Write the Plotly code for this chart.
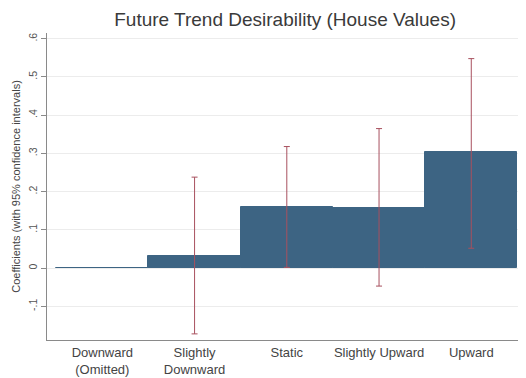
import plotly.graph_objects as go

categories = ['Downward<br>(Omitted)', 'Slightly<br>Downward', 'Static', 'Slightly Upward', 'Upward']
coef = [0.0, 0.032, 0.160, 0.157, 0.303]
ci_low = [0.0, -0.172, 0.002, -0.047, 0.052]
ci_high = [0.0, 0.238, 0.318, 0.365, 0.548]

yticks = [-0.1, 0, 0.1, 0.2, 0.3, 0.4, 0.5, 0.6]
yticklabels = ['-.1', '0', '.1', '.2', '.3', '.4', '.5', '.6']

bar_color = '#3d6483'
ci_color = '#a8505e'

fig = go.Figure()

fig.add_trace(go.Bar(
    x=categories,
    y=coef,
    width=1,
    marker=dict(color=bar_color, line=dict(color=bar_color, width=1)),
    showlegend=False,
))

# confidence intervals (skip the omitted category)
ci_x = categories[1:]
ci_mid = coef[1:]
fig.add_trace(go.Scatter(
    x=ci_x,
    y=ci_mid,
    mode='markers',
    marker=dict(size=1, color='rgba(0,0,0,0)'),
    error_y=dict(
        type='data',
        symmetric=False,
        array=[h - c for h, c in zip(ci_high[1:], ci_mid)],
        arrayminus=[c - l for l, c in zip(ci_low[1:], ci_mid)],
        color=ci_color,
        thickness=1,
        width=3,
    ),
    showlegend=False,
))

# page body has an 8px margin, so the figure is a bit smaller than the window
fig.update_layout(
    width=518,
    height=370,
    margin=dict(l=39, r=4, t=25, b=38, autoexpand=False),
    paper_bgcolor='white',
    plot_bgcolor='white',
    font=dict(family='Liberation Sans, Arial, sans-serif', color='#555555', size=10),
    title=dict(
        text='Future Trend Desirability (House Values)',
        x=0.535, xanchor='center', y=0.97, yanchor='middle',
        font=dict(size=19, color='#3a3a3a'),
    ),
    bargap=0,
)

fig.update_xaxes(
    range=[-0.6, 4.55],
    showline=True, linecolor='#8a8a8a', linewidth=1,
    showgrid=False, ticks='',
    tickfont=dict(size=13, color='#444444'),
    automargin=False,
)

fig.update_yaxes(
    range=[-0.188, 0.615],
    tickvals=yticks, ticktext=yticklabels, tickangle=-90,
    showline=True, linecolor='#8a8a8a', linewidth=1,
    ticks='outside', ticklen=5, tickcolor='#8a8a8a',
    showgrid=True, gridcolor='#ececec', gridwidth=1,
    zeroline=False,
    tickfont=dict(size=10.5, color='#555555'),
    title=dict(text='Coefficients (with 95% confidence intervals)', font=dict(size=11, color='#444444'), standoff=3),
    automargin=False,
)

fig.write_html("out.html")
